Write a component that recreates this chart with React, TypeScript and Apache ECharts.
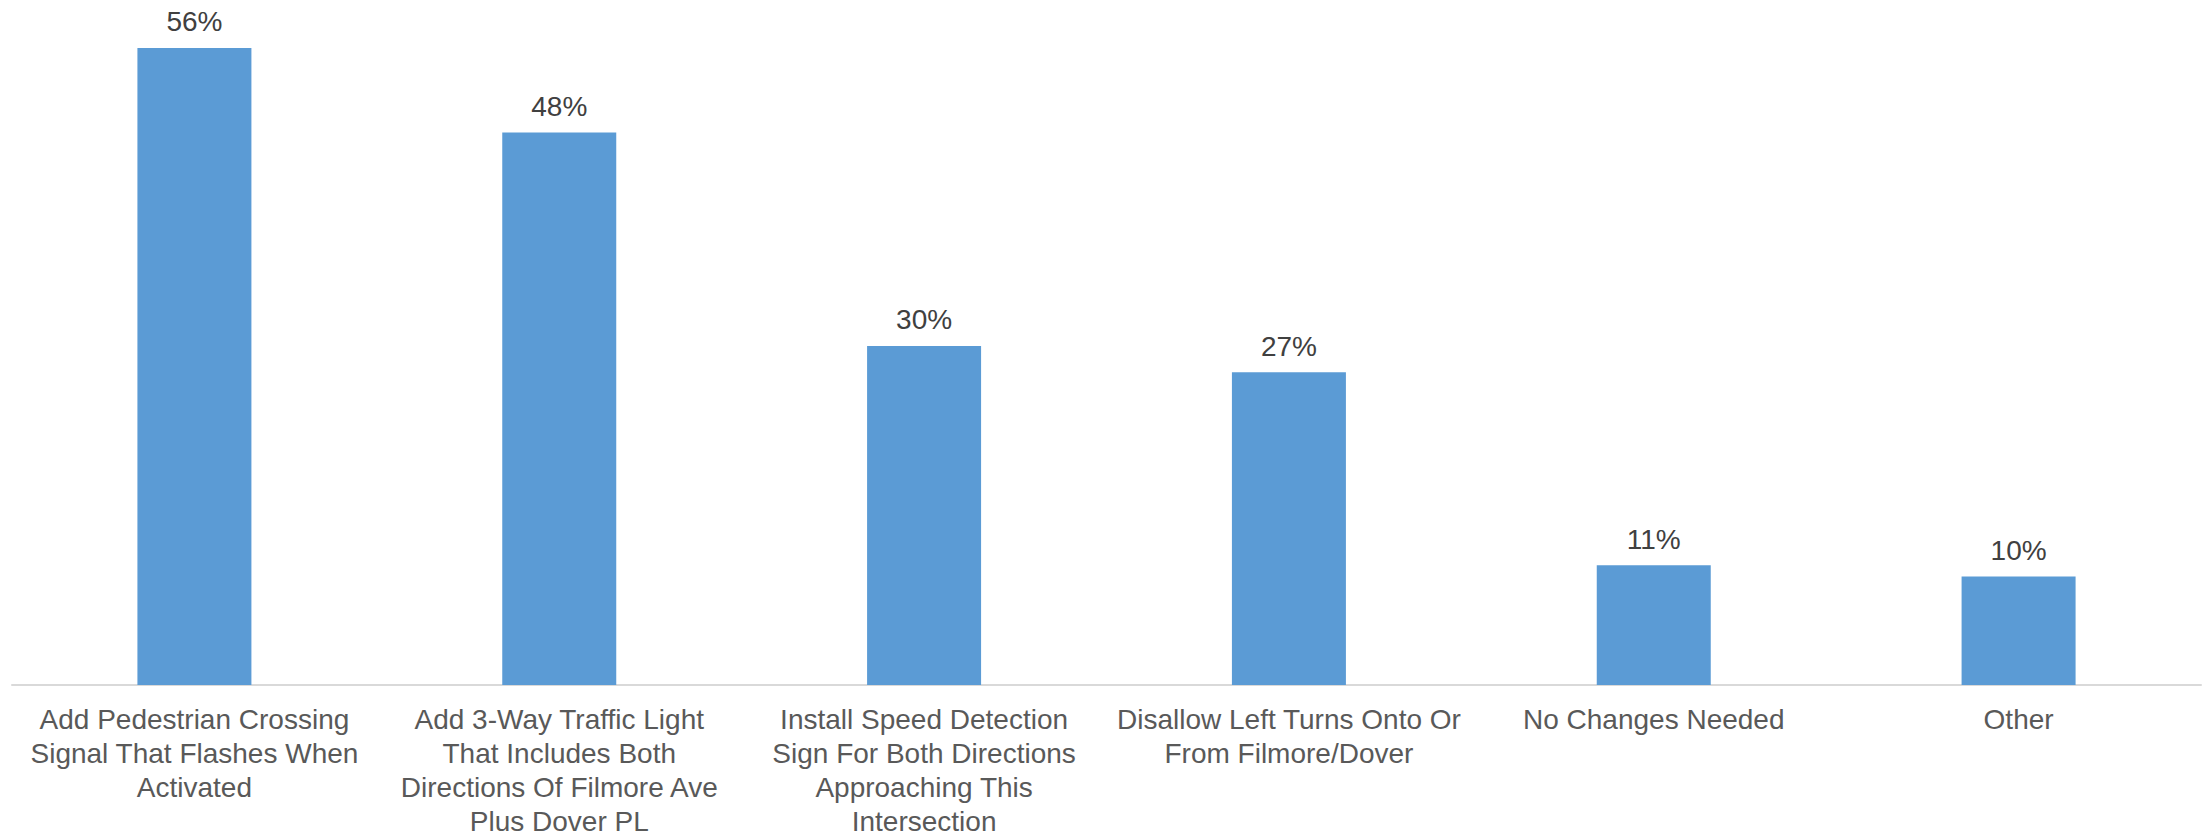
import React, { useEffect, useRef } from "react";
import * as echarts from "echarts";

const categories: string[] = [
  "Add Pedestrian Crossing\nSignal That Flashes When\nActivated",
  "Add 3-Way Traffic Light\nThat Includes Both\nDirections Of Filmore Ave\nPlus Dover PL",
  "Install Speed Detection\nSign For Both Directions\nApproaching This\nIntersection",
  "Disallow Left Turns Onto Or\nFrom Filmore/Dover",
  "No Changes Needed",
  "Other",
];

// percent of respondents (labels are shown rounded)
const values: number[] = [55.8, 48.4, 29.7, 27.4, 10.5, 9.5];

const yMax = 60;

export default function App() {
  const ref = useRef<HTMLDivElement>(null);

  useEffect(() => {
    document.body.style.margin = "0";
    if (!ref.current) return;
    const chart = echarts.init(ref.current, undefined, { renderer: "svg" });
    chart.setOption({
      animation: false,
      backgroundColor: "#ffffff",
      textStyle: { fontFamily: "'Liberation Sans', Arial, sans-serif" },
      grid: { left: 12, right: 2, top: 0, bottom: 152, containLabel: false },
      xAxis: {
        type: "category",
        data: categories,
        axisLine: { show: true, lineStyle: { color: "#d9d9d9", width: 2 } },
        axisTick: { show: false },
        axisLabel: {
          interval: 0,
          margin: 17,
          color: "#595959",
          fontSize: 28,
          lineHeight: 34,
          fontFamily: "'Liberation Sans', Arial, sans-serif",
          align: "center",
        },
      },
      yAxis: {
        type: "value",
        min: 0,
        max: yMax,
        show: false,
        splitLine: { show: false },
      },
      series: [
        {
          type: "bar",
          data: values,
          barWidth: 114,
          itemStyle: { color: "#5b9bd5" },
          label: {
            show: true,
            position: "top",
            distance: 12,
            color: "#404040",
            fontSize: 28,
            fontFamily: "'Liberation Sans', Arial, sans-serif",
            formatter: (p: any) => Math.round(p.value) + "%",
          },
        },
      ],
    });
    return () => chart.dispose();
  }, []);

  return <div ref={ref} style={{ width: 2203, height: 838 }} />;
}
